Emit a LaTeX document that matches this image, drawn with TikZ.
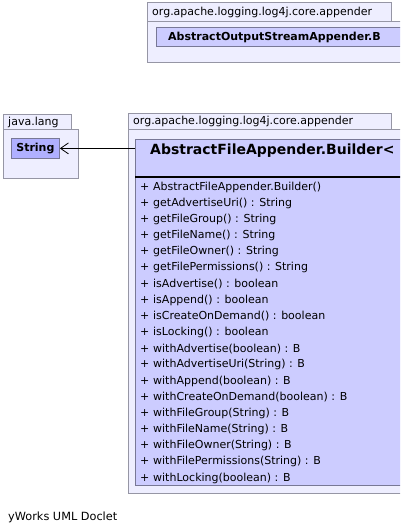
\documentclass[tikz,border=0pt]{standalone}
\usepackage{fontspec}
\setmainfont{DejaVu Sans}
\usetikzlibrary{arrows.meta}
\definecolor{pkgfill}{RGB}{238,238,255}
\definecolor{pkgline}{RGB}{150,150,165}
\definecolor{clsfill}{RGB}{204,204,255}
\definecolor{clsline}{RGB}{120,120,150}
\definecolor{strfill}{RGB}{176,176,255}
\tikzset{
  pkg/.style={draw=pkgline, fill=pkgfill, line width=0.8pt},
  cls/.style={draw=clsline, fill=clsfill, line width=0.8pt},
  tabtext/.style={anchor=west, inner sep=0pt, font=\fontsize{11}{13}\selectfont},
  member/.style={anchor=west, inner sep=0pt, font=\fontsize{11}{13}\selectfont},
  boldtext/.style={anchor=west, inner sep=0pt, font=\bfseries\fontsize{11}{13}\selectfont},
}
\begin{document}
\begin{tikzpicture}[x=1pt,y=-1pt]
\useasboundingbox (0,0) rectangle (400,531);
\clip (0,0) rectangle (400,531);
% top package
\draw[pkg] (147,2) rectangle (391,21);
\draw[pkg] (147,21) rectangle (420,62);
\node[tabtext] (toptab) at (152,12) {org.apache.logging.log4j.core.appender};
\node[cls, anchor=north west, minimum width=264pt, minimum height=19pt] (topcls) at (156,27) {};
\node[boldtext] (toptext) at (168,37) {AbstractOutputStreamAppender.B};
% java.lang package
\draw[pkg] (3,114) rectangle (71,129);
\draw[pkg] (3,129) rectangle (78,178);
\node[tabtext] (jltab) at (8,122) {java.lang};
\node[draw=clsline, fill=strfill, line width=0.8pt, anchor=north west, minimum width=48pt, minimum height=20pt, inner sep=0pt, font=\bfseries\fontsize{11}{13}\selectfont] (str) at (11,138) {String};
% main package
\draw[pkg] (128,113) rectangle (391,129);
\draw[pkg] (128,129) rectangle (420,493);
\node[tabtext] (maintab) at (133,121) {org.apache.logging.log4j.core.appender};
\node[cls, anchor=north west, minimum width=285pt, minimum height=346pt] (fab) at (135,139) {};
\draw[line width=2pt] (135,177) -- (420,177);
\node[anchor=west, inner sep=0pt, font=\bfseries\fontsize{14}{17}\selectfont] (fabname) at (150,151) {AbstractFileAppender.Builder<};
\foreach \t [count=\i from 0] in {
  AbstractFileAppender.Builder(),
  getAdvertiseUri() : String,
  getFileGroup() : String,
  getFileName() : String,
  getFileOwner() : String,
  getFilePermissions() : String,
  isAdvertise() : boolean,
  isAppend() : boolean,
  isCreateOnDemand() : boolean,
  isLocking() : boolean,
  withAdvertise(boolean) : B,
  withAdvertiseUri(String) : B,
  withAppend(boolean) : B,
  withCreateOnDemand(boolean) : B,
  withFileGroup(String) : B,
  withFileName(String) : B,
  withFileOwner(String) : B,
  withFilePermissions(String) : B,
  withLocking(boolean) : B}
  \node[member] (m\i) at (140,{187+16.17*\i}) {\makebox[13pt][l]{+}\t};
% dependency arrow
\draw[line width=0.8pt, -{Straight Barb[length=8pt,width=11pt]}] (fab.west |- str.east) -- (str.east);
% footer
\node[anchor=west, inner sep=0pt, font=\fontsize{11.3}{13}\selectfont] (footer) at (8,517) {yWorks UML Doclet};
\end{tikzpicture}
\end{document}
